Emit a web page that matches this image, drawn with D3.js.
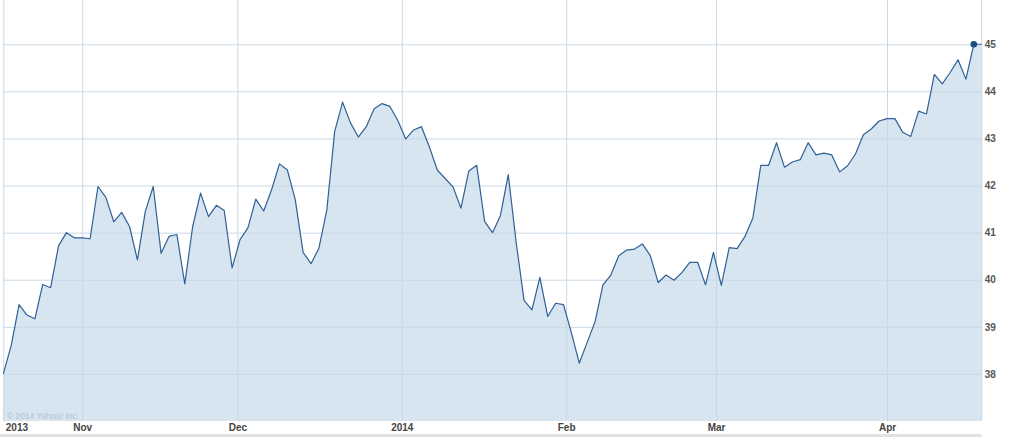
<!DOCTYPE html>
<html>
<head>
<meta charset="utf-8">
<script src="https://cdn.jsdelivr.net/npm/d3@7/dist/d3.min.js"></script>
<style>
  html, body { margin: 0; padding: 0; background: #ffffff; }
  svg { display: block; font-family: "Liberation Sans", Arial, Helvetica, sans-serif; }
</style>
</head>
<body>
<svg id="chart" width="1024" height="437"></svg>
<script>
// Daily closing prices, 18 Oct 2013 – 16 Apr 2014 (trading days)
const prices = [
  38.00, 38.60, 39.47, 39.25, 39.17, 39.90, 39.83, 40.72, 41.00, 40.89,
  40.89, 40.87, 41.98, 41.75, 41.23, 41.43, 41.13, 40.42, 41.45, 41.98,
  40.56, 40.92, 40.96, 39.91, 41.13, 41.84, 41.34, 41.58, 41.47, 40.25,
  40.85, 41.10, 41.71, 41.46, 41.91, 42.46, 42.33, 41.70, 40.58, 40.34,
  40.67, 41.48, 43.15, 43.77, 43.33, 43.03, 43.25, 43.63, 43.74, 43.68,
  43.38, 42.99, 43.18, 43.25, 42.82, 42.33, 42.15, 41.97, 41.52, 42.31,
  42.43, 41.24, 41.00, 41.36, 42.23, 40.79, 39.56, 39.36, 40.05, 39.22,
  39.50, 39.47, 38.87, 38.23, 38.67, 39.11, 39.89, 40.10, 40.51, 40.63,
  40.65, 40.76, 40.51, 39.94, 40.10, 39.99, 40.15, 40.37, 40.37, 39.89,
  40.58, 39.88, 40.68, 40.66, 40.92, 41.31, 42.43, 42.43, 42.91, 42.39,
  42.50, 42.55, 42.91, 42.65, 42.69, 42.65, 42.29, 42.42, 42.67, 43.08,
  43.20, 43.37, 43.42, 43.42, 43.13, 43.04, 43.58, 43.52, 44.36, 44.16,
  44.40, 44.67, 44.26, 45.00
];
// Month boundaries, expressed as (fractional) trading-day index
const monthLabels = ["2013", "Nov", "Dec", "2014", "Feb", "Mar", "Apr"];
const monthIndex  = [0, 10, 29.67, 50.5, 71.33, 90.33, 112];
const priceTicks  = [38, 39, 40, 41, 42, 43, 44, 45];
const copyright   = "\u00a9 2014 Yahoo! Inc.";

const svg = d3.select("#chart");
const padL = 3.3, padR = 981.7, padT = 0, padB = 421;

const x = d3.scaleLinear().domain([0, prices.length]).range([padL, padR]);
const y = d3.scaleLinear().domain([37.0, 45.94]).range([padB, padT]);

// points: every trading day plus a flat continuation to the right edge
const pts = prices.map((v, i) => [i, v]);
pts.push([prices.length, prices[prices.length - 1]]);

// filled area
svg.append("path")
  .datum(pts)
  .attr("fill", "#d6e5f0")
  .attr("d", d3.area().x(d => x(d[0])).y0(y(37.0)).y1(d => y(d[1])));

// horizontal gridlines + right axis labels
const yAxis = svg.append("g")
  .attr("transform", `translate(${padR},0)`)
  .call(d3.axisRight(y).tickValues(priceTicks).tickSize(-(padR - padL)).tickPadding(3).tickFormat(d3.format("d")));
yAxis.select(".domain").remove();
yAxis.selectAll(".tick line").attr("stroke", "#c9d8e4").attr("stroke-width", 1);
yAxis.selectAll(".tick text")
  .attr("fill", "#555").attr("font-size", "10px").attr("font-weight", "bold")
  .attr("font-family", "Liberation Sans, Arial, sans-serif");

// vertical gridlines + month labels
const xAxis = svg.append("g")
  .attr("transform", `translate(0,${padB})`)
  .call(d3.axisBottom(x).tickValues(monthIndex).tickSize(-(padB - padT)).tickPadding(3)
        .tickFormat((d, i) => monthLabels[i]));
xAxis.select(".domain").remove();
xAxis.selectAll(".tick line").attr("stroke", "#c9d8e4").attr("stroke-width", 1);
xAxis.selectAll(".tick text")
  .attr("fill", "#444").attr("font-size", "10px").attr("font-weight", "bold")
  .attr("font-family", "Liberation Sans, Arial, sans-serif");
xAxis.selectAll(".tick text").filter((d, i) => i === 0)
  .attr("text-anchor", "start").attr("x", 2);

// right border line
svg.append("line")
  .attr("x1", x(prices.length)).attr("x2", x(prices.length))
  .attr("y1", padT).attr("y2", padB)
  .attr("stroke", "#c9d8e4");

// price line
svg.append("path")
  .datum(pts)
  .attr("fill", "none")
  .attr("stroke", "#2f6096")
  .attr("stroke-width", 1.2)
  .attr("stroke-linejoin", "round")
  .attr("d", d3.line().x(d => x(d[0])).y(d => y(d[1])));

// last-price marker
svg.append("circle")
  .attr("cx", x(prices.length - 1)).attr("cy", y(prices[prices.length - 1]))
  .attr("r", 3.3).attr("fill", "#1c4d80");

// copyright
svg.append("text")
  .attr("x", 7).attr("y", 418.5)
  .attr("font-size", "8.5px").attr("fill", "#b4c2ce")
  .text(copyright);

// bottom gray bar
svg.append("rect")
  .attr("x", 0).attr("y", 434).attr("width", padR).attr("height", 3)
  .attr("fill", "#e2e2e2");
</script>
</body>
</html>
